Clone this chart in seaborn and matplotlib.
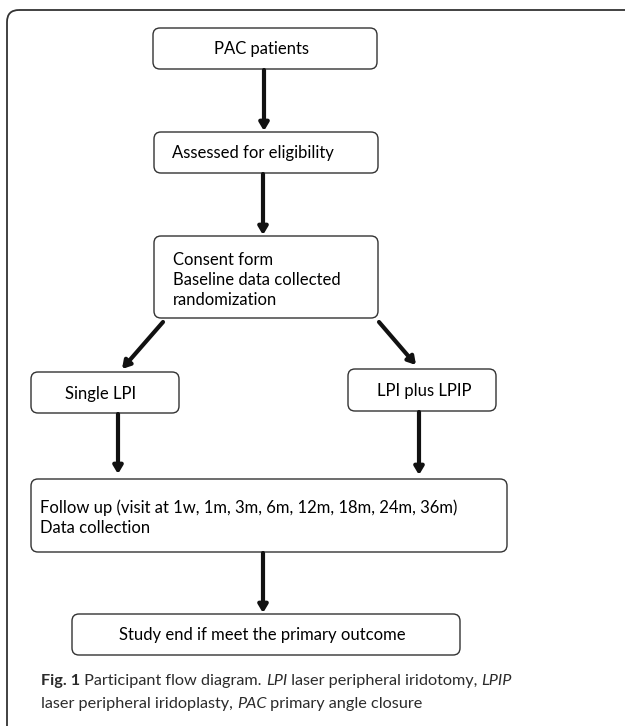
import matplotlib
matplotlib.use("Agg")
import matplotlib.pyplot as plt
from matplotlib.patches import FancyBboxPatch, FancyArrowPatch
import seaborn as sns

# -----------------------------
# Flow diagram content
# -----------------------------
steps = [
    "PAC patients",
    "Assessed for eligibility",
    "Consent form\nBaseline data collected\nrandomization",
    "Single LPI",
    "LPI plus LPIP",
    "Follow up (visit at 1w, 1m, 3m, 6m, 12m, 18m, 24m, 36m)\nData collection",
    "Study end if meet the primary outcome",
]
links = [(0, 1), (1, 2), (2, 3), (2, 4), (3, 5), (4, 5), (5, 6)]
caption_bold = "Fig. 1"
caption_line1 = [
    (" Participant flow diagram. ", "normal"),
    ("LPI", "italic"),
    (" laser peripheral iridotomy, ", "normal"),
    ("LPIP", "italic"),
]
caption_line2 = [
    ("laser peripheral iridoplasty, ", "normal"),
    ("PAC", "italic"),
    (" primary angle closure", "normal"),
]

# -----------------------------
# Layout (pixel units, y down)
# box: left, top, right, bottom, text x, text y, text alignment
# -----------------------------
layout = [
    (153, 28, 377, 69, 262, 49, "center"),
    (154, 132, 378, 173, 172, 153, "left"),
    (154, 236, 378, 318, 173, 280, "left"),
    (31, 372, 179, 413, 101, 394, "center"),
    (348, 369, 496, 411, 424, 391, "center"),
    (31, 479, 507, 552, 40, 518, "left"),
    (72, 614, 460, 655, 262, 635, "center"),
]
arrow_xy = [
    ((264, 70), (264, 131)),
    ((263, 174), (263, 235)),
    ((163, 322), (122, 369)),
    ((379, 322), (416, 365)),
    ((118, 414), (118, 474)),
    ((419, 412), (419, 475)),
    ((263, 553), (263, 613)),
]

sns.set_theme(style="white")
plt.rcParams["font.family"] = ["Lato", "DejaVu Sans"]

fig = plt.figure(figsize=(6.25, 7.26), dpi=100)
ax = fig.add_axes([0, 0, 1, 1])
ax.set_xlim(0, 625)
ax.set_ylim(726, 0)
ax.axis("off")

# outer frame (cut at right and bottom)
frame = FancyBboxPatch((7, 10), 640, 740,
                       boxstyle="round,pad=0,rounding_size=12",
                       fc="none", ec="#333333", lw=1.3)
ax.add_patch(frame)

for label, (l, t, r, b, tx, ty, ha) in zip(steps, layout):
    box = FancyBboxPatch((l, t), r - l, b - t,
                         boxstyle="round,pad=0,rounding_size=7",
                         fc="white", ec="#333333", lw=1.0)
    ax.add_patch(box)
    ax.text(tx, ty, label, ha=ha, va="center", fontsize=12,
            color="black", linespacing=1.32)

for (src, dst), (p0, p1) in zip(links, arrow_xy):
    arr = FancyArrowPatch(p0, p1, arrowstyle="-|>,head_length=0.5,head_width=0.3",
                          mutation_scale=9, lw=3, color="#111111",
                          shrinkA=0, shrinkB=0)
    ax.add_patch(arr)

# caption, drawn piece by piece for mixed bold / italic
fig.canvas.draw()
renderer = fig.canvas.get_renderer()
inv = ax.transData.inverted()


def write_line(pieces, y, x0):
    x = ax.transData.transform((x0, 0))[0]
    for txt, style, weight in pieces:
        xd = inv.transform((x, 0))[0]
        tt = ax.text(xd, y, txt, fontsize=11.7, style=style, fontweight=weight,
                     color="#2b2b2b", va="center", ha="left")
        x = tt.get_window_extent(renderer).x1


write_line([(caption_bold, "normal", "bold")] +
           [(s, st, "normal") for s, st in caption_line1], 681, 41)
write_line([(s, st, "normal") for s, st in caption_line2], 704, 41)

fig.savefig("out.png", dpi=100)
